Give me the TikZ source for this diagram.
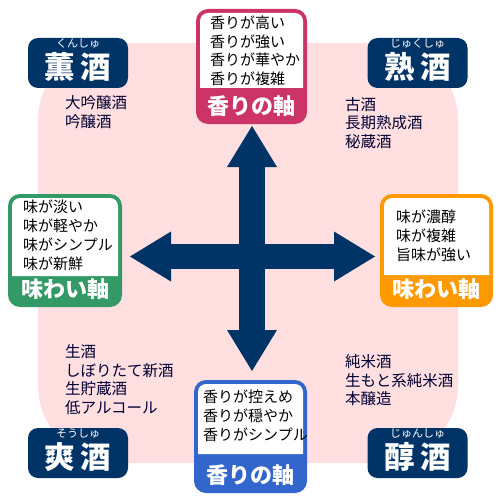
\documentclass[tikz,border=0pt]{standalone}
\usepackage{fontspec}
\setmainfont{Noto Sans CJK JP}
\usetikzlibrary{arrows.meta,positioning}

\definecolor{navy}{HTML}{003366}
\definecolor{listnavy}{HTML}{000033}
\definecolor{bgpink}{HTML}{FFDFDF}
\definecolor{axred}{HTML}{CC3366}
\definecolor{axgreen}{HTML}{339966}
\definecolor{axorange}{HTML}{FF9900}
\definecolor{axblue}{HTML}{3366CC}

\tikzset{
  axisframe/.style={rounded corners=12pt, inner sep=0pt},
  axistitle/.style={text=white, inner sep=0pt, above=7pt of #1,
    font=\fontsize{22}{22}\selectfont\bfseries},
  listtext/.style={anchor=north west, inner sep=0pt, align=left,
    font=\fontsize{15}{18.8}\selectfont},
  sakelist/.style={listtext, text=listnavy, font=\fontsize{15.5}{18.5}\selectfont},
  sakelabel/.style={fill=navy, rounded corners=10pt, inner sep=0pt,
    minimum width=100pt, minimum height=50pt},
  rubytext/.style={text=white, inner sep=0pt, font=\fontsize{11}{11}\selectfont},
  kanjitext/.style={text=white, inner sep=0pt, font=\fontsize{30.5}{30.5}\selectfont\bfseries},
  axisarrow/.style={navy, line width=25.5pt,
    {Triangle[width=50pt,length=41pt,line width=0pt]}-{Triangle[width=50pt,length=41pt,line width=0pt]}},
}

\begin{document}
\begin{tikzpicture}[x=1pt, y=-1pt]
  \useasboundingbox (0,0) rectangle (500,500);
  % background
  \fill[bgpink, rounded corners=78pt] (38,43) rectangle (458,463);

  % sake types
  \node[sakelabel] (kunshu) at (78,63) {};
  \node[rubytext] at ([yshift=-6pt]kunshu.north) {くんしゅ};
  \node[kanjitext] at ([yshift=-29.5pt]kunshu.north) {薫\hspace{6pt}酒};
  \node[sakelabel] (jukushu) at (417.5,63) {};
  \node[rubytext] at ([yshift=-6pt]jukushu.north) {じゅくしゅ};
  \node[kanjitext] at ([yshift=-29.5pt]jukushu.north) {熟\hspace{6pt}酒};
  \node[sakelabel] (soushu) at (78,453) {};
  \node[rubytext] at ([yshift=-6pt]soushu.north) {そうしゅ};
  \node[kanjitext] at ([yshift=-29.5pt]soushu.north) {爽\hspace{6pt}酒};
  \node[sakelabel] (junshu) at (417.5,453) {};
  \node[rubytext] at ([yshift=-6pt]junshu.north) {じゅんしゅ};
  \node[kanjitext] at ([yshift=-29.5pt]junshu.north) {醇\hspace{6pt}酒};

  \node[sakelist] (kunshu-list) at (65,95.5) {大吟醸酒\\吟醸酒};
  \node[sakelist] (jukushu-list) at (345,97) {古酒\\長期熟成酒\\秘蔵酒};
  \node[sakelist] (soushu-list) at (65,344.5) {生酒\\しぼりたて新酒\\生貯蔵酒\\低アルコール};
  \node[sakelist] (junshu-list) at (345,354.5) {純米酒\\生もと系純米酒\\本醸造};

  % axis boxes
  \node[axisframe, fill=axred, minimum width=111pt, minimum height=115pt] (kaori-up) at (251.5,66.5) {};
  \fill[white] (200,88) [rounded corners=8pt] -- (200,13) -- (303,13) [sharp corners] -- (303,88) -- cycle;
  \node[listtext] (kaori-up-text) at (210,15.5) {香りが高い\\香りが強い\\香りが華やか\\香りが複雑};
  \node[axistitle=kaori-up.south] {香りの軸};

  \node[axisframe, fill=axgreen, minimum width=114pt, minimum height=113pt] (aji-left) at (65,250.5) {};
  \fill[white] (12,276) [rounded corners=8pt] -- (12,198) -- (118,198) [sharp corners] -- (118,276) -- cycle;
  \node[listtext] (aji-left-text) at (23,200) {味が淡い\\味が軽やか\\味がシンプル\\味が新鮮};
  \node[axistitle=aji-left.south] {味わい軸};

  \node[axisframe, fill=axorange, minimum width=113pt, minimum height=113pt] (aji-right) at (436.5,250.5) {};
  \fill[white] (384,275) [rounded corners=8pt] -- (384,198) -- (489,198) [sharp corners] -- (489,275) -- cycle;
  \node[listtext] (aji-right-text) at (396,210) {味が濃醇\\味が複雑\\旨味が強い};
  \node[axistitle=aji-right.south] {味わい軸};

  \node[axisframe, fill=axblue, minimum width=113pt, minimum height=113pt] (kaori-down) at (250.5,436.5) {};
  \fill[white] (198,454) [rounded corners=8pt] -- (198,384) -- (303,384) [sharp corners] -- (303,454) -- cycle;
  \node[listtext] (kaori-down-text) at (203,390) {香りが控えめ\\香りが穏やか\\香りがシンプル};
  \node[axistitle=kaori-down.south] {香りの軸};

  % arrows
  \coordinate (up) at (252,126);
  \coordinate (down) at (252,371);
  \coordinate (left) at (130,256.5);
  \coordinate (right) at (375,256.5);
  \draw[axisarrow] (up) -- (down);
  \draw[axisarrow] (left) -- (right);
\end{tikzpicture}
\end{document}
